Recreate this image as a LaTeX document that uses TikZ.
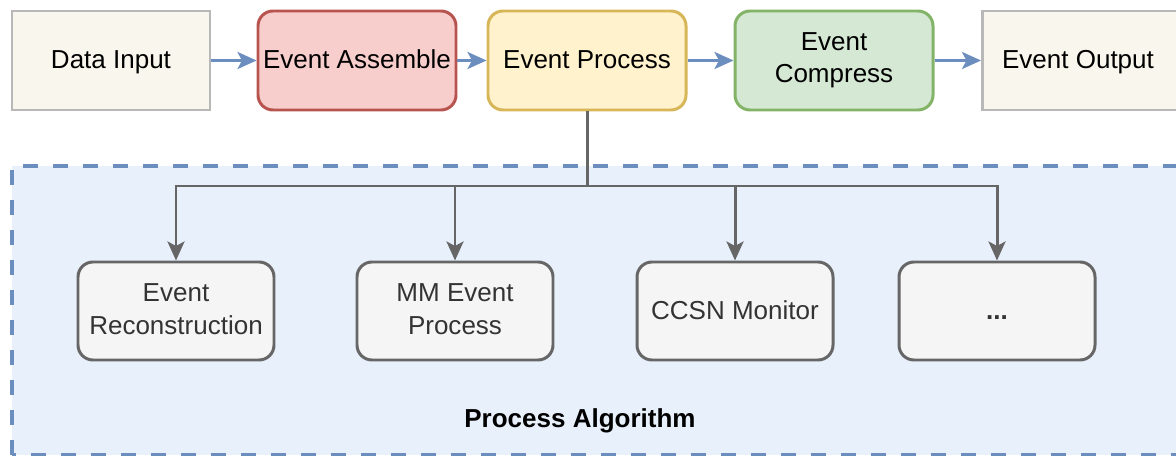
\documentclass[tikz,border=0pt]{standalone}
\usepackage{fontspec}
\setmainfont{Liberation Sans}
\usepackage{tikz}
\usetikzlibrary{calc, arrows.meta}

\definecolor{ioFill}{HTML}{F9F7ED}
\definecolor{ioLine}{HTML}{B8B8B8}
\definecolor{redFill}{HTML}{F8CECC}
\definecolor{redLine}{HTML}{B85450}
\definecolor{yelFill}{HTML}{FFF2CC}
\definecolor{yelLine}{HTML}{D6B656}
\definecolor{grnFill}{HTML}{D5E8D4}
\definecolor{grnLine}{HTML}{82B366}
\definecolor{algFill}{HTML}{F5F5F5}
\definecolor{algLine}{HTML}{666666}
\definecolor{algText}{HTML}{333333}
\definecolor{blueLine}{HTML}{6C8EBF}
\definecolor{groupFill}{HTML}{E8F0FB}

\newcommand{\boxstrut}{\rule[-2.5pt]{0pt}{14.5pt}}

\begin{document}
\begin{tikzpicture}[
        font=\fontsize{14.8}{18.5}\selectfont,
        stage/.style={draw, line width=1.7pt, minimum width=3.96cm, minimum height=1.98cm, align=center, inner sep=2pt,
            execute at begin node=\boxstrut, execute at end node=\boxstrut},
        algo/.style={draw=algLine, fill=algFill, text=algText, line width=1.7pt, rounded corners=0.3cm, minimum width=3.92cm, minimum height=1.96cm, align=center,
            execute at begin node=\boxstrut, execute at end node=\boxstrut},
        flow/.style={-{Stealth[length=0.38cm, width=0.34cm, inset=0.09cm]}, draw=blueLine, line width=1.7pt},
        branch/.style={-{Stealth[length=0.38cm, width=0.34cm, inset=0.09cm]}, draw=algLine, line width=1.7pt}
    ]
    \path[use as bounding box, clip] (0, 0) rectangle (23.52, 9.12);

    % Process algorithm group
    \draw[fill=groupFill, draw=blueLine, line width=2pt, dash pattern=on 0.3cm off 0.3cm] (0.24, 0.02) rectangle (24.2, 5.8);
    \node[font=\fontsize{14.8}{18.5}\selectfont\bfseries] (grp) at (11.6, 0.70) {Process Algorithm};

    % Main chain
    \node[stage, draw=ioLine, fill=ioFill] (input) at (2.22, 7.91) {Data Input};
    \node[stage, draw=redLine, fill=redFill, rounded corners=0.3cm] (assem) at (7.14, 7.91) {Event Assemble};
    \node[stage, draw=yelLine, fill=yelFill, rounded corners=0.3cm] (proc) at (11.74, 7.91) {Event Process};
    \node[stage, draw=grnLine, fill=grnFill, rounded corners=0.3cm] (comp) at (16.68, 7.91) {Event\\Compress};
    \node[stage, draw=ioLine, fill=ioFill, anchor=west] (output) at (19.62, 7.91) {\hspace{-0.14cm}Event Output};

    \draw[flow] (input) -- (assem);
    \draw[flow] (assem) -- (proc);
    \draw[flow] (proc) -- (comp);
    \draw[flow] (comp) -- (output);

    % Algorithms
    \node[algo] (reco) at (3.52, 2.9) {Event\\Reconstruction};
    \node[algo] (mm) at (9.1, 2.9) {MM Event\\Process};
    \node[algo] (ccsn) at (14.7, 2.9) {CCSN Monitor};
    \node[algo] (more) at (19.94, 2.9) {\textbf{...}};

    \coordinate (split) at (proc.south |- 0, 5.4);
    \foreach \a in {reco, mm, ccsn, more} {
        \draw[branch] (proc.south) -- (split) -| (\a.north);
    }

\end{tikzpicture}
\end{document}
